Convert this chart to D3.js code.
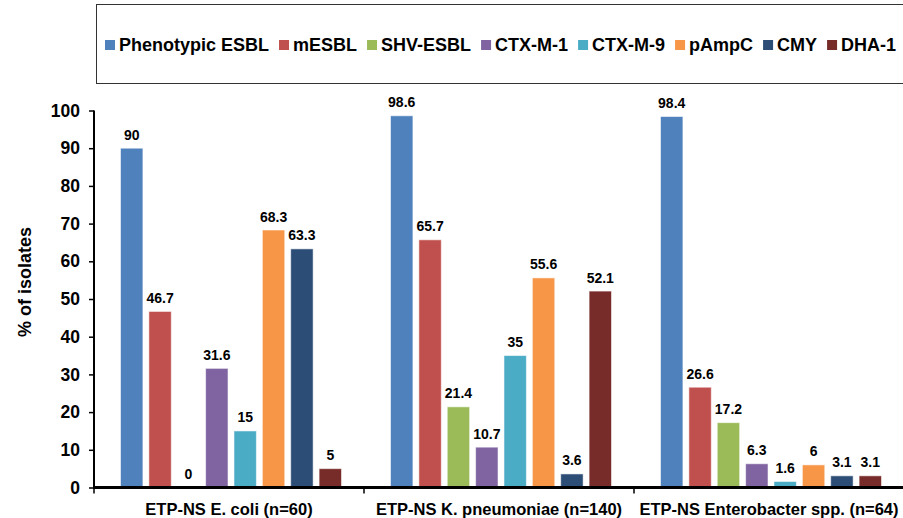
<!DOCTYPE html>
<html>
<head>
<meta charset="utf-8">
<script src="https://cdn.jsdelivr.net/npm/d3@7"></script>
<style>
  body { margin: 0; background: #fff; }
  text { font-family: Arial, "Liberation Sans", sans-serif; font-weight: bold; fill: #000; }
</style>
</head>
<body>
<div id="chart"></div>
<script>
// groups on the x axis
var categories = ["ETP-NS E. coli (n=60)", "ETP-NS K. pneumoniae (n=140)", "ETP-NS Enterobacter spp. (n=64)"]

// one series per legend entry, values in % of isolates
var seriesNames = ["Phenotypic ESBL", "mESBL", "SHV-ESBL", "CTX-M-1", "CTX-M-9", "pAmpC", "CMY", "DHA-1"]
var phenotypicESBL = [90, 98.6, 98.4]
var mESBL = [46.7, 65.7, 26.6]
var shvESBL = [0, 21.4, 17.2]
var ctxM1 = [31.6, 10.7, 6.3]
var ctxM9 = [15, 35, 1.6]
var pAmpC = [68.3, 55.6, 6]
var cmy = [63.3, 3.6, 3.1]
var dha1 = [5, 52.1, 3.1]
var seriesValues = [phenotypicESBL, mESBL, shvESBL, ctxM1, ctxM9, pAmpC, cmy, dha1]

var yTicks = [0, 10, 20, 30, 40, 50, 60, 70, 80, 90, 100]
var colors = ["#4F81BD", "#C0504D", "#9BBB59", "#8064A2", "#4BACC6", "#F79646", "#2C4D75", "#772C2A"]

var width = 903, height = 518
var plot = {left: 94, right: 904, top: 110.5, bottom: 487.5}

var svg = d3.select("#chart").append("svg")
  .attr("width", width)
  .attr("height", height)

var x0 = d3.scaleBand()
  .domain(categories)
  .range([plot.left, plot.right])

var x1 = d3.scaleBand()
  .domain(seriesNames)
  .range([26.5, 247.5])
  .paddingInner(0.21)

var y = d3.scaleLinear()
  .domain([0, 100])
  .range([plot.bottom, plot.top])

var color = d3.scaleOrdinal().domain(seriesNames).range(colors)

// flatten to one record per bar
var bars = []
categories.forEach(function(c, i) {
  seriesNames.forEach(function(s, j) {
    bars.push({cat: c, series: s, value: seriesValues[j][i]})
  })
})

var barG = svg.append("g")
barG.selectAll("rect")
  .data(bars)
  .join("rect")
    .attr("x", d => x0(d.cat) + x1(d.series))
    .attr("y", d => y(d.value))
    .attr("width", x1.bandwidth())
    .attr("height", d => y(0) - y(d.value))
    .attr("fill", d => color(d.series))
    .attr("stroke", "#fff")
    .attr("stroke-opacity", 0.55)
    .attr("stroke-width", 1)

barG.selectAll("text")
  .data(bars)
  .join("text")
    .attr("x", d => x0(d.cat) + x1(d.series) + x1.bandwidth() / 2)
    .attr("y", d => y(d.value) - 8.5)
    .attr("text-anchor", "middle")
    .style("font-size", "14px")
    .text(d => d.value)

// y axis
var yAxis = svg.append("g")
  .attr("transform", `translate(${plot.left},0)`)
  .call(d3.axisLeft(y).tickValues(yTicks).tickSize(5).tickPadding(9))
yAxis.select(".domain").attr("stroke", "#000").attr("stroke-width", 2)
  .attr("d", `M0,${plot.top}V${plot.bottom}`)
yAxis.selectAll(".tick line").attr("stroke", "#000").attr("stroke-width", 1.5)
yAxis.selectAll(".tick text").style("font-size", "17.5px").style("font-family", "Arial, 'Liberation Sans', sans-serif")

// x axis with ticks at the group borders
var xAxis = svg.append("g")
  .attr("transform", `translate(0,${plot.bottom})`)
xAxis.append("line")
  .attr("x1", plot.left - 1).attr("x2", plot.right)
  .attr("y1", 0).attr("y2", 0)
  .attr("stroke", "#000").attr("stroke-width", 3)
xAxis.selectAll(".sep")
  .data(categories)
  .join("line")
    .attr("class", "sep")
    .attr("x1", d => x0(d)).attr("x2", d => x0(d))
    .attr("y1", 0).attr("y2", 6)
    .attr("stroke", "#000").attr("stroke-width", 1.5)
xAxis.selectAll(".cat")
  .data(categories)
  .join("text")
    .attr("class", "cat")
    .attr("x", d => x0(d) + x0.bandwidth() / 2)
    .attr("y", 27.5)
    .attr("text-anchor", "middle")
    .style("font-size", "16.5px")
    .text(d => d)

// axis title
svg.append("text")
  .attr("transform", "rotate(-90)")
  .attr("x", -282)
  .attr("y", 31)
  .attr("text-anchor", "middle")
  .style("font-size", "18px")
  .text("% of isolates")

// legend
var legend = svg.append("g")
legend.append("rect")
  .attr("x", 96.5).attr("y", 4.5)
  .attr("width", 820).attr("height", 79)
  .attr("fill", "none")
  .attr("stroke", "#333").attr("stroke-width", 1)

var lx = 105
seriesNames.forEach(function(s) {
  var item = legend.append("g")
  item.append("rect")
    .attr("x", lx).attr("y", 40)
    .attr("width", 10).attr("height", 10)
    .attr("fill", color(s))
  var t = item.append("text")
    .attr("x", lx + 14)
    .attr("y", 51)
    .style("font-size", "18px")
    .text(s)
  lx = lx + 14 + t.node().getComputedTextLength() + 10
})
</script>
</body>
</html>
